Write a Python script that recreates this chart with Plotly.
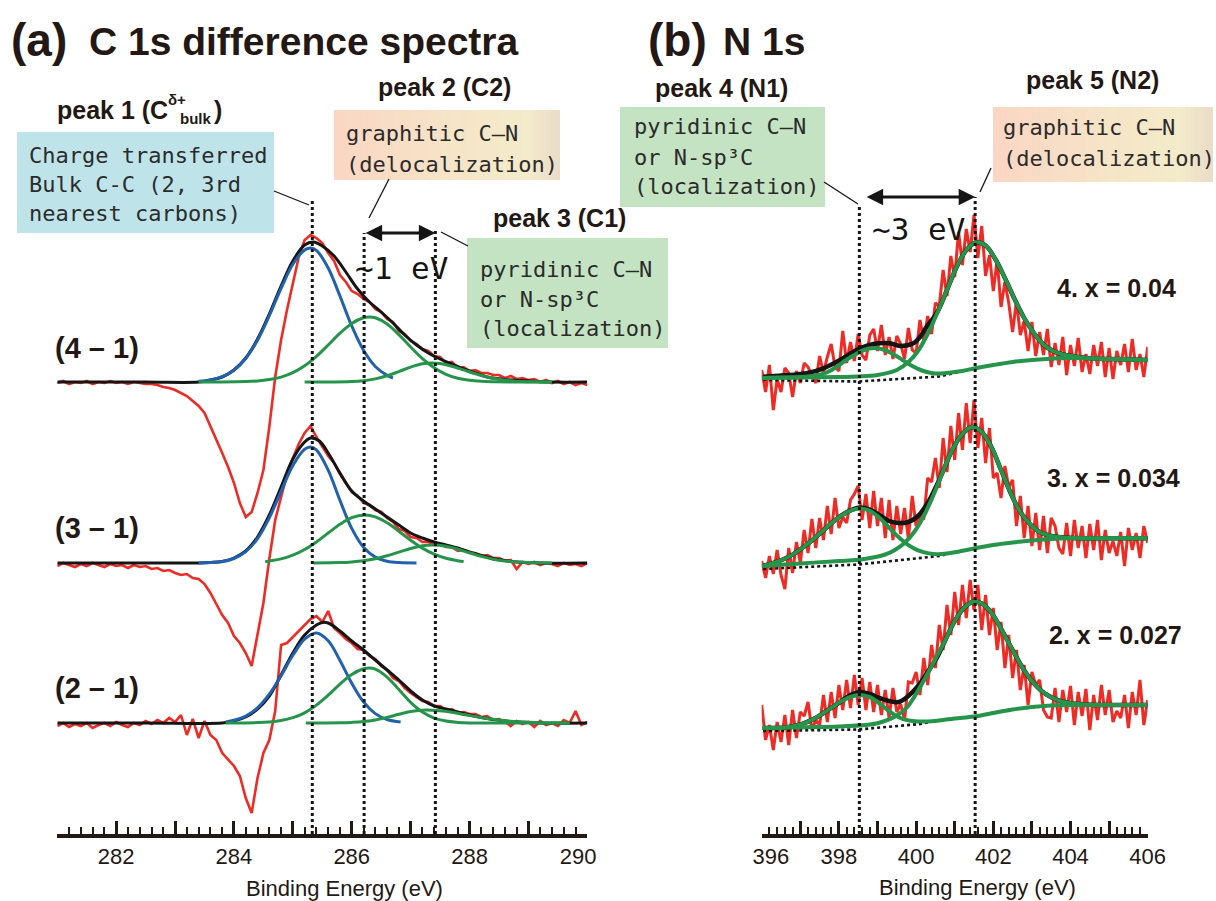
import numpy as np
import plotly.graph_objects as go

W, H = 1216, 901
AX_Y = 834  # pixel row of the energy axes

RED = "#EE2B24"
BLUE = "#2161AE"
GREEN = "#26944A"
BLACK = "#151515"
TXT = "#231815"

# ================= (a) C 1s difference spectra =================
c1s_energy = np.round(np.linspace(281.0, 290.0, 91), 2)
c1s_names = ["(4 – 1)", "(3 – 1)", "(2 – 1)"]
c1s_offset = [452, 271, 111]

c1s_red_41 = [-1, 1, -2, 0, -1, 1, -2, 0, -1, 1,
              -1, 0, -2, 0, -1, -2, -2, -3, -5, -6,
              -8, -11, -14, -19, -24, -31, -44, -58, -71, -85,
              -101, -121, -135, -130, -111, -88, -45, 5, 42, 72,
              99, 125, 142, 147, 144, 139, 129, 121, 107, 100,
              91, 88, 83, 80, 73, 70, 63, 60, 51, 48,
              41, 38, 33, 31, 26, 25, 19, 20, 14, 15,
              11, 12, 9, 9, 7, 7, 4, 6, 3, 4,
              2, 3, 0, 2, -1, 1, -2, 0, -3, -1, -3]
c1s_red_31 = [-3, 0, -2, -4, -1, -3, 0, -2, -4, -1,
              -3, -2, -5, -2, -4, -3, -6, -5, -8, -7,
              -10, -12, -11, -15, -16, -21, -30, -41, -52, -60,
              -73, -80, -90, -103, -72, -40, 4, 43, 66, 88,
              105, 119, 130, 137, 126, 117, 107, 100, 89, 80,
              71, 67, 60, 58, 53, 51, 45, 41, 34, 32,
              26, 25, 21, 21, 18, 19, 16, 16, 12, 13,
              10, 10, 7, 8, 5, 5, 2, 3, -6, 1,
              -1, 1, -2, 0, -1, -3, 0, -2, -1, -3, 0]
c1s_red_21 = [-3, 0, -4, -1, -3, 0, -5, -2, 0, -3,
              1, -2, -4, 0, -2, 2, -1, 3, 0, 5,
              1, 8, -12, 4, -15, 2, -12, -17, -30, -36,
              -43, -53, -75, -90, -55, -30, -17, 12, 78, 80,
              86, 93, 99, 104, 107, 101, 112, 95, 90, 84,
              80, 74, 73, 67, 64, 57, 53, 45, 42, 35,
              30, 26, 22, 21, 17, 17, 13, 14, 10, 11,
              9, 9, 6, 7, 3, 4, 1, -3, 2, -1,
              1, -4, 2, -2, 0, -3, 3, 0, 12, -2, 1]
c1s_red = [c1s_red_41, c1s_red_31, c1s_red_21]

# fitted components (energy, intensity)
c1s_total = [
    ([281.0, 282.5, 283.4, 283.6, 283.8, 284.0, 284.2, 284.4, 284.6, 284.8, 285.0, 285.2, 285.35, 285.5, 285.7,
      285.9, 286.1, 286.3, 286.5, 286.7, 286.9, 287.1, 287.3, 287.5, 287.7, 287.9, 288.1, 288.3, 288.6, 288.9,
      289.4, 290.0],
     [0, 0, 0, 2, 5, 12, 24, 43, 68, 96, 121, 137, 140, 136, 126, 110, 93, 80, 70, 59, 47, 37, 29, 23, 18, 13,
      9, 5, 2.5, 1.5, 0, 0]),
    ([281.0, 282.5, 283.4, 283.6, 283.8, 284.0, 284.2, 284.4, 284.6, 284.8, 285.0, 285.2, 285.3, 285.45, 285.6,
      285.8, 286.0, 286.2, 286.4, 286.6, 286.8, 287.0, 287.2, 287.4, 287.6, 287.8, 288.0, 288.2, 288.4, 288.6,
      288.8, 289.2, 290.0],
     [0, 0, 0, 0.5, 1.5, 5, 12, 26, 48, 76, 104, 121, 125, 122, 110, 90, 72, 62, 54, 46, 38, 30, 25, 21, 18, 15,
      11, 7.5, 4.5, 2.5, 1, 0, 0]),
    ([281.0, 282.5, 283.8, 284.0, 284.2, 284.4, 284.6, 284.8, 285.0, 285.2, 285.4, 285.5, 285.6, 285.8, 286.0,
      286.2, 286.4, 286.6, 286.8, 287.0, 287.2, 287.4, 287.6, 287.8, 288.0, 288.2, 288.4, 288.6, 288.8, 289.2,
      290.0],
     [0, 0, 0, 2, 6, 14, 27, 48, 70, 88, 98, 100.6, 100, 92, 82, 73, 63, 53, 43, 32, 23, 17, 14, 11, 8, 5.5,
      3.5, 2, 1, 0, 0]),
]
c1s_peak1 = [
    ([283.4, 283.6, 283.8, 284.0, 284.2, 284.4, 284.6, 284.8, 285.0, 285.2, 285.3, 285.4, 285.6, 285.8, 286.0,
      286.2, 286.4, 286.6, 286.7],
     [0.7, 2.1, 5.3, 11.8, 23.5, 41.8, 66.3, 93.6, 117.8, 132, 134, 131.6, 114, 85.9, 56, 31.7, 15.5, 6.6, 4]),
    ([283.4, 283.6, 283.8, 284.0, 284.2, 284.4, 284.6, 284.8, 285.0, 285.2, 285.3, 285.4, 285.6, 285.8, 286.0,
      286.2, 286.4, 286.6, 286.8, 287.1],
     [0.1, 0.4, 1.5, 4.5, 11.3, 24.4, 45.2, 71.7, 97.6, 113.8, 116, 113.2, 92.9, 62.6, 34.6, 15.7, 5.9, 1.8,
      0.4, 0]),
    ([283.86, 284.0, 284.2, 284.4, 284.6, 284.8, 285.0, 285.2, 285.4, 285.6, 285.8, 286.0, 286.2, 286.4, 286.6,
      286.83],
     [1, 2.7, 6.9, 15.2, 28.8, 47.4, 67.7, 83.8, 90, 82.2, 62.6, 39.8, 21.1, 9.4, 3.5, 0.9]),
]
c1s_peak2 = [
    ([283.4, 283.8, 284.2, 284.4, 284.6, 284.8, 285.0, 285.2, 285.4, 285.6, 285.8, 286.0, 286.2, 286.3, 286.4,
      286.6, 286.8, 287.0, 287.2, 287.4, 287.6, 287.8, 288.0, 288.2, 288.4, 288.8, 289.4],
     [0, 0, 0.4, 1.0, 2.4, 4.9, 9.3, 16.2, 25.7, 37, 48.8, 58.6, 64.3, 65, 64.2, 58, 47.4, 35, 23.4, 14.2, 7.7,
      3.8, 1.7, 0.7, 0.3, 0, 0]),
    ([284.53, 284.6, 284.8, 285.0, 285.2, 285.4, 285.6, 285.8, 286.0, 286.22, 286.4, 286.6, 286.8, 287.0, 287.2,
      287.4, 287.6, 287.8, 287.9],
     [1.3, 2, 4.1, 7.8, 13.5, 21.1, 30, 38.7, 45.3, 48, 46.1, 40.2, 31.8, 22.8, 14.9, 8.8, 4.7, 2.3, 1.5]),
    ([283.86, 284.4, 284.6, 284.8, 285.0, 285.2, 285.4, 285.6, 285.8, 286.0, 286.2, 286.3, 286.4, 286.6, 286.8,
      287.0, 287.2, 287.4, 287.6, 287.8, 288.0, 288.5, 289.7],
     [0, 0.4, 1, 2.4, 5.3, 10.2, 17.9, 27.8, 38.9, 48.5, 54.2, 55, 53.9, 45.9, 33.4, 20.6, 10.9, 4.9, 1.9, 0.6,
      0, 0, 0]),
]
c1s_peak3 = [
    ([285.2, 285.6, 286.0, 286.2, 286.4, 286.6, 286.8, 287.0, 287.2, 287.35, 287.5, 287.7, 287.9, 288.1, 288.3,
      288.5, 288.7, 288.9, 289.1, 289.4],
     [0, 0, 0.5, 1.3, 3.1, 6.2, 10.4, 14.9, 18.2, 19, 18.4, 15.8, 12.1, 8.2, 5, 2.7, 1.3, 0.5, 0.2, 0]),
    ([285.35, 285.8, 286.0, 286.2, 286.4, 286.6, 286.8, 287.0, 287.2, 287.38, 287.6, 287.8, 288.0, 288.2, 288.4,
      288.6, 288.8, 289.0, 289.4],
     [0, 0.4, 1.1, 2.3, 4.3, 7.3, 10.9, 14.5, 17.2, 18, 16.7, 13.8, 10.2, 6.6, 3.8, 2, 0.9, 0.4, 0]),
    ([285.22, 285.8, 286.0, 286.2, 286.4, 286.6, 286.8, 287.0, 287.25, 287.5, 287.7, 287.9, 288.1, 288.3, 288.5,
      288.7, 288.9, 289.2, 289.7],
     [0, 0.2, 0.6, 1.4, 3.1, 5.6, 8.7, 11.5, 13, 12.2, 10.7, 8.6, 6.5, 4.5, 2.9, 1.7, 0.9, 0.3, 0]),
]
c1s_peak_energy = [285.33, 286.21, 287.42]

# ================= (b) N 1s =================
n1s_energy = np.round(np.linspace(396.0, 406.0, 101), 2)
n1s_names = ["4. x = 0.04", "3. x = 0.034", "2. x = 0.027"]
n1s_offset = [454, 266, 104]

n1s_red_4 = [10, -12, 15, -30, 1, -12, 12, 7, -17, 9,
             -3, 17, 13, 5, -3, 24, 7, 23, 36, 13,
             9, 49, 17, 38, 19, 46, 25, 20, 45, 51,
             29, 55, 25, 43, 21, 44, 36, 21, 52, 30,
             27, 60, 39, 64, 46, 77, 74, 110, 84, 124,
             103, 148, 115, 151, 128, 165, 122, 154, 104, 125,
             89, 120, 73, 98, 77, 48, 79, 45, 59, 29,
             58, 24, 48, 25, 51, 13, 37, 15, 43, 5,
             35, 14, 42, 8, 26, 6, 35, 14, 38, 3,
             32, 1, 29, 15, 36, 8, 41, 10, 26, 3, 33]
n1s_red_3 = [7, -10, 12, -6, 18, -7, -21, 20, -5, 26,
             5, 38, 15, 49, 20, 50, 28, 62, 34, 70,
             40, 51, 45, 68, 74, 82, 48, 74, 40, 77,
             42, 70, 30, 68, 28, 62, 34, 60, 29, 72,
             42, 52, 50, 90, 86, 110, 80, 130, 96, 142,
             108, 155, 118, 165, 125, 168, 120, 150, 105, 140,
             90, 95, 70, 102, 81, 88, 42, 72, 30, 62,
             22, 55, 18, 52, 15, 50, 42, 20, 14, 45,
             12, 48, 20, 42, 10, 44, 18, 48, 8, 38,
             15, 27, 12, 36, 2, 40, 18, 35, 10, 42, 25]
n1s_red_2 = [25, -10, 5, -20, 8, -12, 15, -15, 20, -8,
             18, 14, 28, 0, 10, 5, 35, 8, 38, 12,
             45, 20, 50, 22, 55, 25, 52, 20, 48, 18,
             45, 15, 40, 12, 42, 18, 26, 10, 48, 47,
             58, 35, 72, 45, 85, 62, 105, 80, 125, 95,
             138, 105, 145, 112, 150, 120, 145, 100, 135, 95,
             122, 80, 108, 62, 95, 52, 80, 40, 65, 25,
             58, 45, 50, 20, 13, 12, 42, 8, 40, 18,
             44, 5, 38, 14, 41, 0, 35, 10, 45, 15,
             40, 8, 19, 12, 35, 2, 38, 15, 50, 5, 30]
n1s_red = [n1s_red_4, n1s_red_3, n1s_red_2]

n1s_background = [
    ([396.04, 398.5, 400.6, 401.0, 401.5, 402.0, 402.5, 403.0, 404.0, 405.0, 406.0],
     [0, -1.5, 3.5, 7, 11.5, 15, 18, 20, 22, 21, 20]),
    ([396.04, 398.5, 400.6, 401.0, 401.5, 402.0, 402.5, 403.0, 403.5, 404.0, 406.0],
     [-1, 3.5, 12, 16, 19.5, 23, 25.5, 27.5, 29, 29.7, 29.7]),
    ([396.04, 398.5, 400.1, 400.62, 401.48, 402.35, 403.64, 406.0],
     [-1, 0.5, 6, 10, 13.3, 20, 25, 25]),
]
n1s_peak5 = [
    ([396.0, 397.0, 398.0, 398.5, 399.0, 399.5, 399.8, 400.05, 400.3, 400.55, 400.8, 401.05, 401.3, 401.55,
      401.8, 402.05, 402.3, 402.55, 402.8, 403.05, 403.3, 403.55, 403.8, 404.2, 404.6, 405.0, 405.5, 406.0],
     [2, 2.5, 3, 3.5, 5, 10, 18, 29, 46, 67, 90, 113, 130, 137.5, 134.5, 121, 102, 81, 62, 47, 35.5, 29, 25.5,
      23, 21.5, 21, 20.5, 20]),
    ([396.0, 397.0, 398.0, 398.45, 398.95, 399.2, 399.45, 399.7, 399.95, 400.2, 400.45, 400.7, 400.95, 401.2,
      401.45, 401.7, 401.95, 402.2, 402.45, 402.7, 402.95, 403.2, 403.45, 403.7, 404.2, 405.0, 406.0],
     [2, 4.5, 7, 8, 11, 13.5, 18, 25, 36, 52, 73, 97, 119, 134, 141, 136, 121, 98, 75, 56, 44, 36, 32.5, 31,
      29.7, 29.7, 29.7]),
    ([396.0, 397.0, 398.0, 398.75, 399.0, 399.25, 399.5, 399.75, 400.0, 400.25, 400.5, 400.75, 401.0, 401.25,
      401.5, 401.75, 402.0, 402.25, 402.5, 402.75, 403.0, 403.25, 403.5, 403.75, 404.0, 404.5, 405.0, 406.0],
     [2, 2.8, 3.5, 5.2, 6.8, 9.8, 14.5, 22, 36, 53, 71, 89.3, 109, 122.5, 128.5, 125.3, 114.5, 97.8, 80, 62.8,
      49, 39, 32.7, 28.8, 26.8, 25.3, 25, 25]),
]
n1s_peak4 = [
    ([396.0, 396.5, 397.0, 397.4, 397.65, 397.9, 398.15, 398.4, 398.65, 398.9, 399.15, 399.4, 399.65, 399.9,
      400.15, 400.4, 400.65, 400.9, 401.2, 401.5, 402.0, 402.5, 403.0, 404.0, 405.0, 406.0],
     [2, 2.5, 3, 4.5, 7, 12, 19, 25, 30, 32, 30.5, 26, 20, 14, 9.5, 7, 6.5, 7.5, 9, 11.5, 15, 18, 20, 22, 21,
      20]),
    ([396.05, 396.3, 396.55, 396.8, 397.05, 397.3, 397.55, 397.8, 398.05, 398.3, 398.55, 398.8, 399.05, 399.3,
      399.55, 399.8, 400.05, 400.3, 400.55, 400.8, 401.05, 401.5, 402.0, 402.5, 403.0, 403.5, 404.0, 406.0],
     [2, 5, 8.5, 13.4, 20, 27.6, 36, 44.6, 52, 57.4, 59.6, 57.3, 50.3, 40.3, 30.7, 22.9, 17.7, 14.9, 13.8, 14.4,
      16, 19.5, 23, 25.5, 27.5, 29, 29.7, 29.7]),
    ([396.05, 396.3, 396.55, 396.8, 397.05, 397.3, 397.55, 397.8, 398.05, 398.3, 398.55, 398.8, 399.05, 399.3,
      399.55, 399.8, 400.05, 400.3, 400.55, 401.0, 401.5, 402.0, 402.5, 403.0, 403.5, 404.0, 406.0],
     [2, 2, 2.3, 3.8, 6.2, 10.1, 15.6, 22.1, 28.4, 33.1, 35, 32.8, 26.5, 18.9, 12.8, 9.6, 8.5, 8.5, 9.3, 11.5,
      13.5, 17, 20.5, 23, 24.5, 25, 25]),
]
n1s_total = [
    ([396.04, 396.7, 397.16, 397.6, 398.03, 398.46, 398.89, 399.32, 399.58, 399.93, 400.1, 400.27, 400.55,
      400.8, 401.05, 401.3, 401.55, 401.8, 402.05, 402.3, 402.55, 402.8, 403.05, 403.3, 403.55, 403.8, 404.2,
      404.6, 405.0, 405.5, 406.0],
     [3.3, 5, 6.7, 11.7, 20, 30, 36, 36.7, 34, 36.7, 43, 53, 68, 90, 113, 130, 137.5, 134.5, 121, 102, 81, 62,
      47, 35.5, 29, 25.5, 23, 21.5, 21, 20.5, 20]),
    ([396.05, 396.3, 396.55, 396.8, 397.05, 397.3, 397.55, 397.8, 398.05, 398.3, 398.55, 398.8, 399.05, 399.3,
      399.55, 399.8, 400.05, 400.3, 400.55, 400.7, 400.95, 401.2, 401.45, 401.7, 401.95, 402.2, 402.45, 402.7,
      402.95, 403.2, 403.45, 403.7, 404.2, 405.0, 406.0],
     [2.4, 5, 8.5, 13.4, 20, 27.6, 36, 44.6, 52.1, 57.6, 60.5, 58.5, 53, 47, 45, 46, 52, 65, 84, 97, 119, 134,
      141, 136, 121, 98, 75, 56, 44, 36, 32.5, 31, 29.7, 29.7, 29.7]),
    ([396.05, 396.3, 396.55, 396.8, 397.05, 397.3, 397.55, 397.8, 398.05, 398.3, 398.55, 398.8, 399.05, 399.3,
      399.55, 399.8, 400.05, 400.3, 400.55, 400.75, 401.0, 401.25, 401.5, 401.75, 402.0, 402.25, 402.5, 402.75,
      403.0, 403.25, 403.5, 403.75, 404.0, 404.5, 405.0, 406.0],
     [2, 2, 2.3, 3.8, 6.2, 10.1, 15.6, 22.1, 28.4, 35, 38, 36, 32, 29, 28, 34, 44, 58, 73, 89.3, 109, 122.5,
      128.5, 125.3, 114.5, 97.8, 80, 62.8, 49, 39, 32.7, 28.8, 26.8, 25.3, 25, 25]),
]
n1s_peak_energy = [398.53, 401.53]

NB = "\u00a0"
c1s_ticks = [281, 282, 283, 284, 285, 286, 287, 288, 289, 290]
c1s_ticktext = ["", "282", "", "284", "", "286", "", "288", "", "290" + NB * 3]
n1s_ticks = [396, 397, 398, 399, 400, 401, 402, 403, 404, 405, 406]
n1s_ticktext = [NB * 3 + "396", "", "398", "", "400", "", "402", "", "404", "", "406"]


# ================= figure =================
def P(x, y):
    """pixel position -> paper coordinates (layout only)"""
    return x / W, 1 - y / H


fig = go.Figure()


def add(x, y, off, color, width, xa, ya, shape="spline", dash=None):
    fig.add_trace(go.Scatter(
        x=list(x), y=[v + off for v in y], mode="lines", xaxis=xa, yaxis=ya,
        line=dict(color=color, width=width, shape=shape, dash=dash, smoothing=1.0),
        hoverinfo="skip", showlegend=False))


for i in range(3):
    off = c1s_offset[i]
    add(c1s_energy, c1s_red[i], off, RED, 2.6, "x", "y", shape="linear")
    add(*c1s_total[i], off, BLACK, 3, "x", "y")
    add(*c1s_peak1[i], off, BLUE, 3, "x", "y")
    add(*c1s_peak2[i], off, GREEN, 3, "x", "y")
    add(*c1s_peak3[i], off, GREEN, 3, "x", "y")

for i in range(3):
    off = n1s_offset[i]
    add(n1s_energy, n1s_red[i], off, RED, 3, "x2", "y2", shape="linear")
    add(*n1s_background[i], off, BLACK, 2.6, "x2", "y2", shape="linear", dash="3px,3px")
    add(*n1s_total[i], off, BLACK, 4.5, "x2", "y2")
    add(*n1s_peak4[i], off, GREEN, 4, "x2", "y2")
    add(*n1s_peak5[i], off, GREEN, 4, "x2", "y2")

shapes = []
annotations = []

# vertical dotted peak markers (tops in axis units = pixels above the axis)
for e, top in zip(c1s_peak_energy, [AX_Y - 198, AX_Y - 233, AX_Y - 229]):
    shapes.append(dict(type="line", xref="x", yref="y", x0=e, x1=e, y0=0, y1=top,
                       line=dict(color=BLACK, width=3, dash="3px,3px"), layer="above"))
for e, top in zip(n1s_peak_energy, [AX_Y - 205, AX_Y - 197]):
    shapes.append(dict(type="line", xref="x2", yref="y2", x0=e, x1=e, y0=0, y1=top,
                       line=dict(color=BLACK, width=3, dash="3px,3px"), layer="above"))


def rect(x0, y0, x1, y1, color):
    a, b = P(x0, y0)
    c, d = P(x1, y1)
    shapes.append(dict(type="rect", xref="paper", yref="paper", x0=a, x1=c, y0=d, y1=b,
                       fillcolor=color, line=dict(width=0), layer="below"))


def grad_rect(x0, y0, x1, y1, stops, n=48):
    for k in range(n):
        t = (k + 0.5) / n
        for j in range(len(stops) - 1):
            if stops[j][0] <= t <= stops[j + 1][0]:
                t0, c0 = stops[j]
                t1, c1 = stops[j + 1]
                f = (t - t0) / (t1 - t0)
                col = tuple(int(round(c0[m] + f * (c1[m] - c0[m]))) for m in range(3))
                break
        xa = x0 + (x1 - x0) * k / n
        xb = x0 + (x1 - x0) * (k + 1) / n + 0.6
        rect(xa, y0, min(xb, x1), y1, "rgb(%d,%d,%d)" % col)


ORANGE_STOPS = [(0.0, (250, 214, 195)), (0.5, (246, 228, 199)), (0.85, (243, 235, 202)),
                (1.0, (234, 220, 200))]

rect(17, 132, 274, 233, "#BEE4EA")
grad_rect(334, 110, 560, 180, ORANGE_STOPS)
rect(467, 238, 668, 348, "#C4E3C3")
rect(620, 107, 825, 207, "#C4E3C3")
grad_rect(993, 107, 1213, 182, ORANGE_STOPS)


def seg(x0, y0, x1, y1, w=1.3):
    a, b = P(x0, y0)
    c, d = P(x1, y1)
    shapes.append(dict(type="line", xref="paper", yref="paper", x0=a, y0=b, x1=c, y1=d,
                       line=dict(color=BLACK, width=w), layer="above"))


seg(274, 191, 309, 205)
seg(389, 179, 369, 218)
seg(441, 232, 468, 246)
seg(824, 182, 858, 204)
seg(991, 168, 980, 192)


def text(x, y, s, size, anchor="left", family="Liberation Sans", color=TXT, bold=True):
    a, b = P(x, y)
    annotations.append(dict(x=a, y=b, xref="paper", yref="paper", text=("<b>%s</b>" % s) if bold else s,
                            showarrow=False, xanchor=anchor, yanchor="middle",
                            font=dict(size=size, family=family, color=color)))


MONO = "DejaVu Sans Mono"
text(9, 40, "(a)", 46)
text(87, 42, "C 1s difference spectra", 39)
text(646, 40, "(b)", 46)
text(721, 42, "N 1s", 39)

text(55, 110, "peak 1 (C", 25)
text(166, 99, "δ+", 15)
text(178, 119, "bulk", 15)
text(212, 110, ")", 25)
text(444, 87, "peak 2 (C2)", 25, anchor="center")
text(491, 218, "peak 3 (C1)", 25)
text(721, 88, "peak 4 (N1)", 25, anchor="center")
text(1092, 80, "peak 5 (N2)", 25, anchor="center")

for name, y in zip(c1s_names, [348, 528, 688]):
    text(53, y, name, 29)
for name, (x, y) in zip(n1s_names, [(1055, 288), (1045, 478), (1047, 635)]):
    text(x, y, name, 25)

box_lines = [
    (27, [155, 184, 213], ["Charge transferred", "Bulk C-C (2, 3rd", "nearest carbons)"]),
    (344, [134, 164], ["graphitic C–N", "(delocalization)"]),
    (478, [269, 299, 328], ["pyridinic C–N", "or N-sp³C", "(localization)"]),
    (632, [127, 157, 187], ["pyridinic C–N", "or N-sp³C", "(localization)"]),
    (1001, [128, 158], ["graphitic C–N", "(delocalization)"]),
]
for x, ys, lines in box_lines:
    for y, s in zip(ys, lines):
        text(x, y, s, 22, family=MONO, color="#2B2B2B", bold=False)

text(353, 268, "~1 eV", 31, family=MONO, color=BLACK, bold=False)
text(870, 229, "~3 eV", 31, family=MONO, color=BLACK, bold=False)

text(344, 888, "Binding Energy (eV)", 22, anchor="center", bold=False)
text(977, 887, "Binding Energy (eV)", 22, anchor="center", bold=False)

# double arrows between peak markers
annotations.append(dict(xref="x", yref="y", axref="x", ayref="y",
                        x=c1s_peak_energy[2], y=AX_Y - 233, ax=c1s_peak_energy[1], ay=AX_Y - 233,
                        text="", showarrow=True, arrowside="end+start", arrowhead=2, arrowsize=1.1,
                        arrowwidth=3, arrowcolor=BLACK, standoff=0, startstandoff=0))
annotations.append(dict(xref="x2", yref="y2", axref="x2", ayref="y2",
                        x=n1s_peak_energy[1], y=AX_Y - 197, ax=n1s_peak_energy[0] + 0.15, ay=AX_Y - 197,
                        text="", showarrow=True, arrowside="end+start", arrowhead=2, arrowsize=1.1,
                        arrowwidth=3, arrowcolor=BLACK, standoff=0, startstandoff=0))

xaxis_common = dict(
    showline=True, linewidth=4, linecolor=TXT, mirror=False, showgrid=False, zeroline=False,
    ticks="inside", ticklen=13, tickwidth=2.6, tickcolor=TXT, tickmode="array",
    tickfont=dict(family="Liberation Sans", size=22, color=TXT),
    minor=dict(ticks="inside", ticklen=7, tickwidth=2.2, tickcolor=TXT, dtick=0.2, showgrid=False),
    automargin=False,
)
fig.update_layout(
    width=W, height=H, margin=dict(l=0, r=0, t=0, b=0, autoexpand=False),
    paper_bgcolor="white", plot_bgcolor="rgba(0,0,0,0)",
    xaxis=dict(domain=[57.3 / W, 587.3 / W], range=[281, 290], anchor="y",
               tickvals=c1s_ticks, ticktext=c1s_ticktext, **xaxis_common),
    xaxis2=dict(domain=[761.7 / W, 1147.7 / W], range=[396, 406], anchor="y2",
                tickvals=n1s_ticks, ticktext=n1s_ticktext, **xaxis_common),
    yaxis=dict(domain=[1 - AX_Y / H, 1], range=[0, AX_Y], visible=False, anchor="x"),
    yaxis2=dict(domain=[1 - AX_Y / H, 1], range=[0, AX_Y], visible=False, anchor="x2"),
    shapes=shapes, annotations=annotations,
)
fig.update_xaxes(minor_tick0=0)

fig.write_html("out.html")
